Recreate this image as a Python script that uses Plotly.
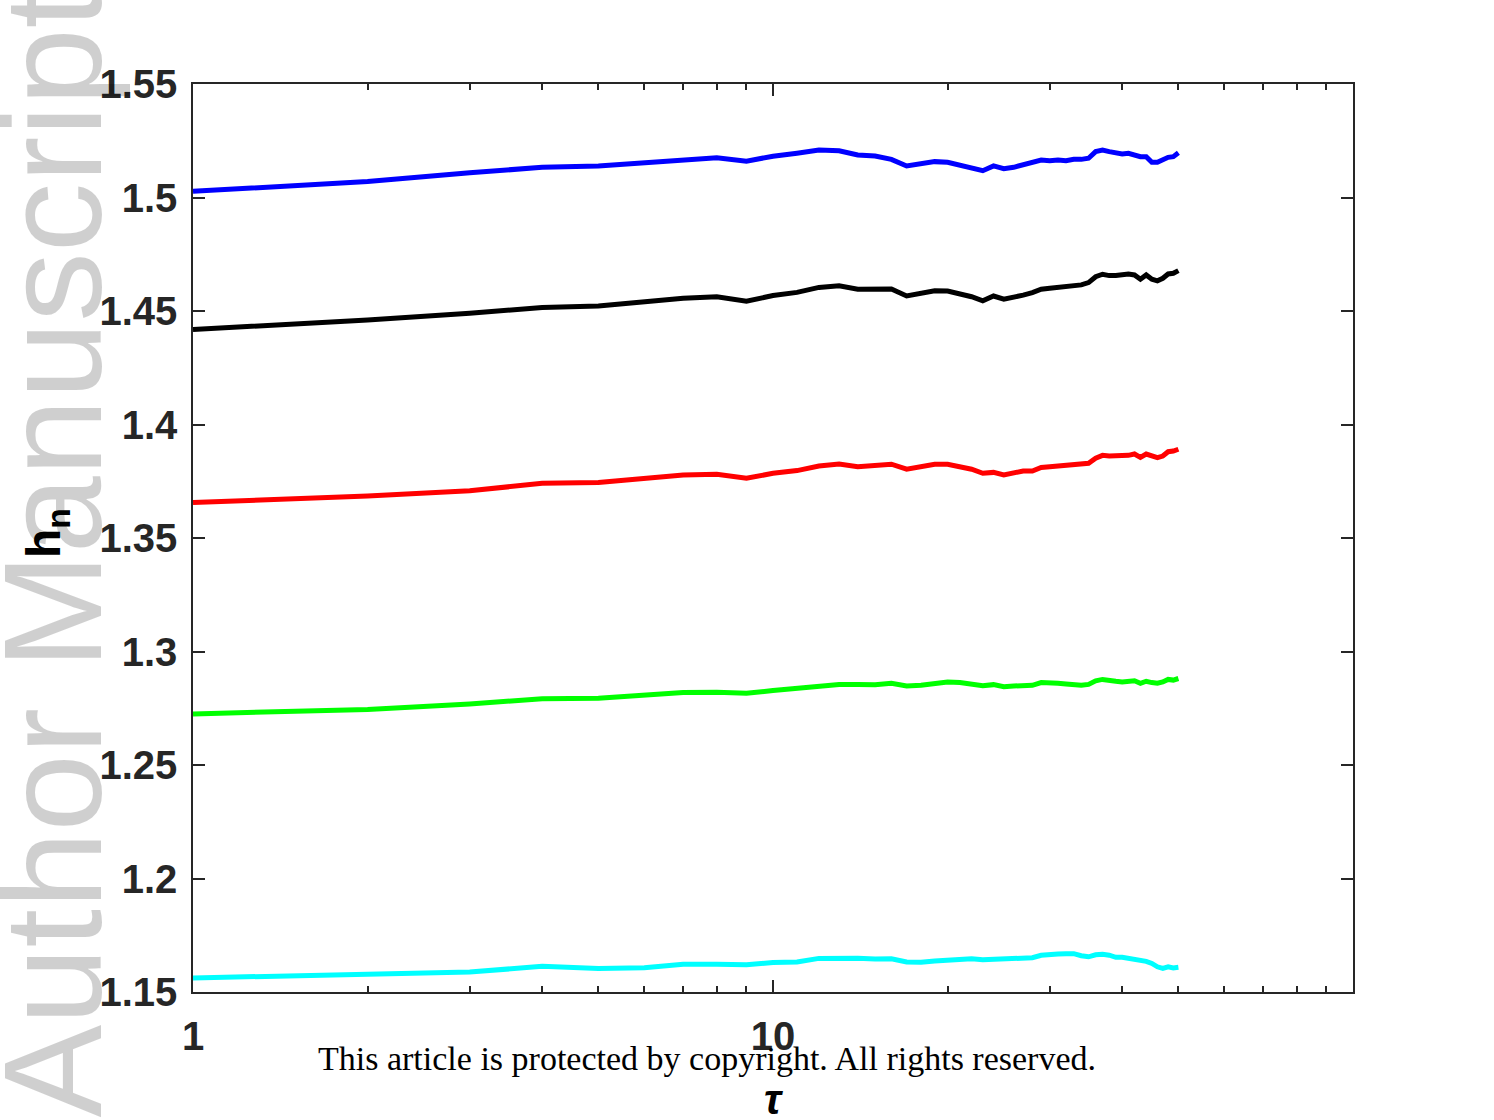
import plotly.graph_objects as go

# lag values
tau = list(range(1, 51))

# generalized Hurst exponent h_n for each moment order
h_blue = [1.5027, 1.5070, 1.5109, 1.5133, 1.5139, 1.5155, 1.5167, 1.5175, 1.5160, 1.5182,
          1.5195, 1.5209, 1.5206, 1.5187, 1.5183, 1.5168, 1.5139, 1.5150, 1.5158, 1.5155,
          1.5143, 1.5133, 1.5118, 1.5139, 1.5127, 1.5133, 1.5143, 1.5153, 1.5165, 1.5162,
          1.5165, 1.5162, 1.5168, 1.5168, 1.5173, 1.5202, 1.5209, 1.5202, 1.5197, 1.5192,
          1.5195, 1.5187, 1.5180, 1.5180, 1.5155, 1.5155, 1.5165, 1.5177, 1.5180, 1.5197]
h_black = [1.4419, 1.4460, 1.4490, 1.4515, 1.4522, 1.4541, 1.4556, 1.4563, 1.4543, 1.4568,
           1.4582, 1.4604, 1.4611, 1.4596, 1.4596, 1.4597, 1.4566, 1.4578, 1.4589, 1.4588,
           1.4578, 1.4563, 1.4545, 1.4566, 1.4552, 1.4560, 1.4570, 1.4581, 1.4596, 1.4600,
           1.4603, 1.4604, 1.4610, 1.4615, 1.4625, 1.4651, 1.4662, 1.4656, 1.4656, 1.4659,
           1.4663, 1.4659, 1.4640, 1.4659, 1.4640, 1.4633, 1.4644, 1.4663, 1.4666, 1.4678]
h_red = [1.3656, 1.3685, 1.3708, 1.3741, 1.3744, 1.3763, 1.3778, 1.3781, 1.3763, 1.3785,
         1.3797, 1.3817, 1.3826, 1.3814, 1.3817, 1.3825, 1.3803, 1.3814, 1.3825, 1.3825,
         1.3814, 1.3803, 1.3785, 1.3789, 1.3778, 1.3785, 1.3795, 1.3795, 1.3811, 1.3814,
         1.3817, 1.3817, 1.3820, 1.3822, 1.3829, 1.3851, 1.3864, 1.3861, 1.3861, 1.3861,
         1.3864, 1.3870, 1.3855, 1.3870, 1.3861, 1.3854, 1.3861, 1.3880, 1.3883, 1.3891]
h_green = [1.2725, 1.2745, 1.2769, 1.2792, 1.2794, 1.2810, 1.2819, 1.2820, 1.2816, 1.2828,
           1.2838, 1.2851, 1.2855, 1.2855, 1.2854, 1.2860, 1.2848, 1.2851, 1.2860, 1.2866,
           1.2863, 1.2858, 1.2849, 1.2854, 1.2845, 1.2848, 1.2851, 1.2851, 1.2863, 1.2863,
           1.2860, 1.2857, 1.2854, 1.2851, 1.2855, 1.2871, 1.2877, 1.2871, 1.2869, 1.2866,
           1.2866, 1.2871, 1.2860, 1.2869, 1.2863, 1.2860, 1.2866, 1.2877, 1.2874, 1.2881]
h_cyan = [1.1562, 1.1577, 1.1588, 1.1613, 1.1604, 1.1607, 1.1622, 1.1622, 1.1620, 1.1630,
          1.1632, 1.1648, 1.1651, 1.1649, 1.1645, 1.1646, 1.1632, 1.1631, 1.1637, 1.1642,
          1.1644, 1.1646, 1.1642, 1.1644, 1.1644, 1.1649, 1.1648, 1.1651, 1.1662, 1.1667,
          1.1667, 1.1669, 1.1669, 1.1660, 1.1655, 1.1664, 1.1666, 1.1662, 1.1653, 1.1653,
          1.1648, 1.1646, 1.1637, 1.1635, 1.1626, 1.1611, 1.1604, 1.1611, 1.1606, 1.1609]

series = [
    (h_blue, "#0000ff"),
    (h_black, "#000000"),
    (h_red, "#ff0000"),
    (h_green, "#00ff00"),
    (h_cyan, "#00ffff"),
]

x_tickvals = [1, 10]
x_ticktext = ["1", "10"]
x_minor_ticks = [2, 3, 4, 5, 6, 7, 8, 9, 20, 30, 40, 50, 60, 70, 80, 90]
y_tickvals = [1.15, 1.2, 1.25, 1.3, 1.35, 1.4, 1.45, 1.5, 1.55]
y_ticktext = ["1.15", "1.2", "1.25", "1.3", "1.35", "1.4", "1.45", "1.5", "1.55"]

W, H = 1494, 1120
ML, MR, MT, MB = 193, 141, 84, 128
PW = W - ML - MR
PH = H - MT - MB


def px_x(px):
    return (px - ML) / PW


def px_y(py):
    return (H - MB - py) / PH


fig = go.Figure()
for vals, col in series:
    fig.add_trace(go.Scatter(x=tau, y=vals, mode="lines",
                             line=dict(color=col, width=5), showlegend=False))

axis_col = "#262626"
tick_font = dict(family="Liberation Sans", size=40, color=axis_col, weight="bold")

fig.update_layout(
    width=W, height=H,
    margin=dict(l=ML, r=MR, t=MT, b=MB, autoexpand=False),
    paper_bgcolor="white", plot_bgcolor="white",
    xaxis=dict(
        type="log", range=[0, 2],
        tickvals=x_tickvals, ticktext=x_ticktext,
        ticks="inside", ticklen=12, tickwidth=1.5, tickcolor=axis_col,
        showline=True, linecolor=axis_col, linewidth=1.5, mirror="ticks",
        showgrid=False, zeroline=False,
        tickfont=tick_font, ticklabelstandoff=8,
        minor=dict(tickvals=x_minor_ticks, ticks="inside", ticklen=6,
                   tickwidth=1.5, tickcolor=axis_col, showgrid=False),
    ),
    yaxis=dict(
        range=[1.15, 1.55],
        tickvals=y_tickvals, ticktext=y_ticktext,
        ticks="inside", ticklen=12, tickwidth=1.5, tickcolor=axis_col,
        showline=True, linecolor=axis_col, linewidth=1.5, mirror="ticks",
        showgrid=False, zeroline=False,
        tickfont=tick_font, ticklabelstandoff=6,
    ),
)

annotations = [
    # watermark
    dict(text="Author Manuscript", textangle=-90, showarrow=False,
         xref="paper", yref="paper", x=px_x(-28), y=px_y(1120),
         xanchor="left", yanchor="bottom",
         font=dict(family="Liberation Sans", size=139, color="rgba(0,0,0,0.19)")),
    # footer
    dict(text="This article is protected by copyright. All rights reserved.",
         showarrow=False, xref="paper", yref="paper",
         x=px_x(707), y=px_y(1058), xanchor="center", yanchor="middle",
         font=dict(family="Liberation Serif", size=34, color="black")),
    # x-axis title
    dict(text="<b><i>τ</i></b>", showarrow=False, xref="paper", yref="paper",
         x=px_x(773), y=px_y(1099), xanchor="center", yanchor="middle",
         font=dict(family="Liberation Sans", size=42, color="black")),
    # y-axis title
    dict(text="<b>h<sub>n</sub></b>", textangle=-90, showarrow=False,
         xref="paper", yref="paper", x=px_x(47), y=px_y(533),
         xanchor="center", yanchor="middle",
         font=dict(family="Liberation Sans", size=48, color="black")),
]
fig.update_layout(annotations=annotations)

fig.write_html("out.html")
